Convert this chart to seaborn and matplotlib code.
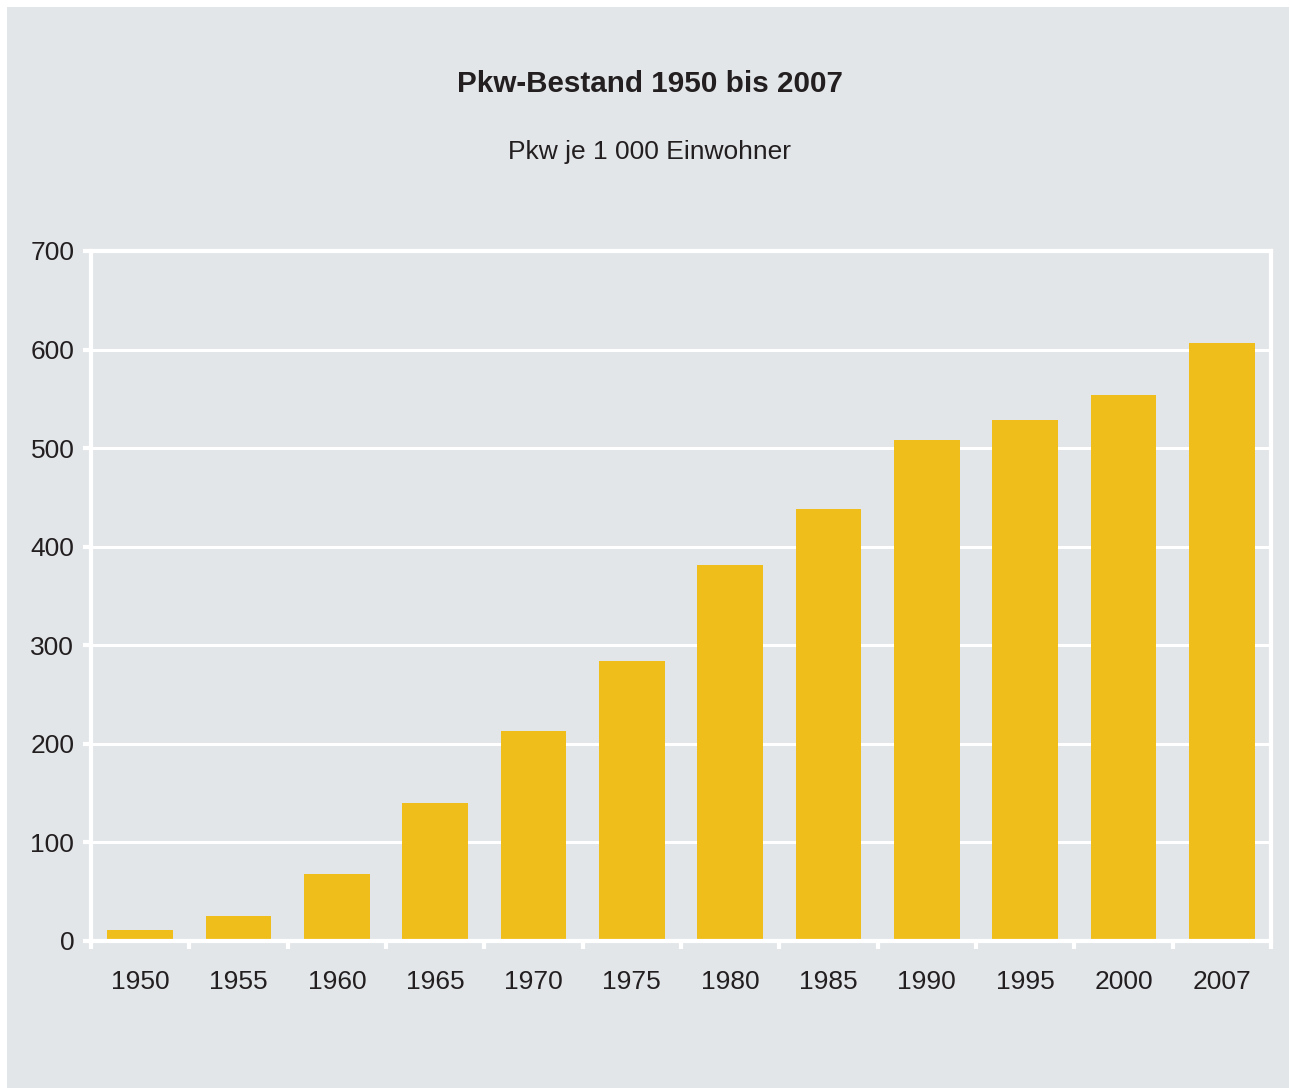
import matplotlib
matplotlib.use("Agg")
import matplotlib.pyplot as plt
from matplotlib.patches import Rectangle
import seaborn as sns
import numpy as np
import pandas as pd

years  = ["1950", "1955", "1960", "1965", "1970", "1975",
          "1980", "1985", "1990", "1995", "2000", "2007"]
values = [11, 25, 68, 140, 213, 284, 381, 438, 508, 529, 554, 607]
yticks = [0, 100, 200, 300, 400, 500, 600, 700]

title    = "Pkw-Bestand 1950 bis 2007"
subtitle = "Pkw je 1 000 Einwohner"

bg      = "#e3e6e9"
bar_col = "#f0be1a"
txt_col = "#231f20"

sns.set_theme(style="white")
plt.rcParams['font.family'] = ['Liberation Sans', 'DejaVu Sans']

fig = plt.figure(figsize=(12.9, 10.9), dpi=100)
fig.patch.set_facecolor("white")
# grey panel with thin white margin
fig.add_artist(Rectangle((7/1290, 2/1090), 1282/1290, 1081/1090,
                         transform=fig.transFigure, facecolor=bg,
                         edgecolor="none", zorder=-10))

ax = fig.add_axes([91/1290, 149/1090, 1180/1290, 690/1090])
ax.set_facecolor(bg)

df = pd.DataFrame({"Jahr": years, "Pkw": values})
sns.barplot(ax=ax, data=df, x="Jahr", y="Pkw", color=bar_col,
            saturation=1, width=0.67, linewidth=0, edgecolor="none", zorder=3)

ax.set_xlim(-0.5, len(years) - 0.5)
ax.set_ylim(0, 700)
ax.set_yticks(yticks)
ax.set_yticklabels([str(t) for t in yticks])
ax.yaxis.grid(True, color="white", linewidth=2.2, zorder=0)
ax.set_axisbelow(True)

for s in ax.spines.values():
    s.set_visible(True)
    s.set_color("white")
    s.set_linewidth(3)
    s.set_zorder(4)

ax.tick_params(axis="y", which="major", left=True, length=6, width=3,
               color="white", direction="out", labelsize=19,
               labelcolor=txt_col, pad=6)
ax.set_xticks(np.arange(-0.5, len(years)), minor=True)
ax.tick_params(axis="x", which="minor", bottom=True, length=6, width=3,
               color="white", direction="out")
ax.tick_params(axis="x", which="major", bottom=False, length=0,
               labelsize=19, labelcolor=txt_col, pad=21)
ax.set_xlabel("")
ax.set_ylabel("")

fig.text(650/1290, 1 - 84/1090, title, ha="center", va="center",
         fontsize=21.3, fontweight="bold", color=txt_col)
fig.text(650/1290, 1 - 152/1090, subtitle, ha="center", va="center",
         fontsize=19, color=txt_col)

fig.savefig("out.png", dpi=100, facecolor="white")
